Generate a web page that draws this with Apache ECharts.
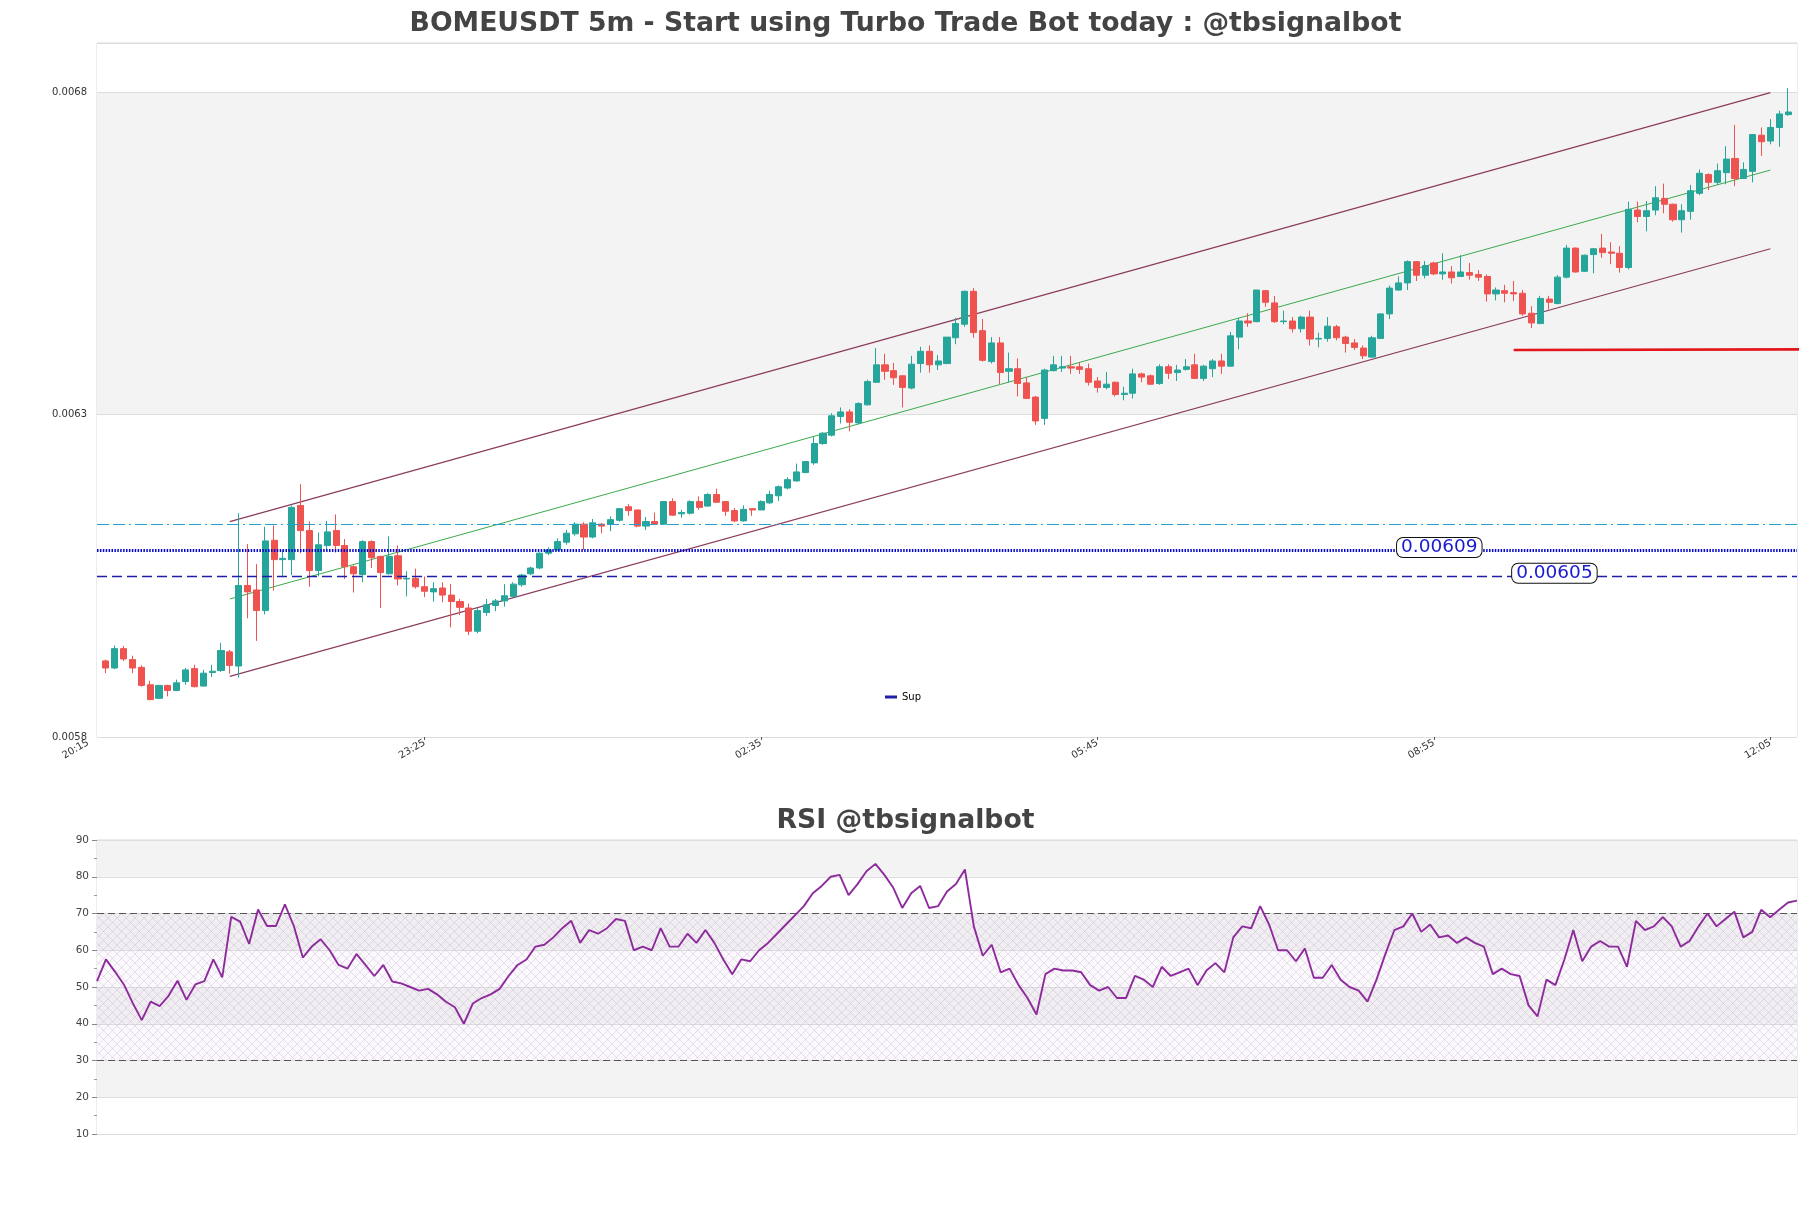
<!DOCTYPE html>
<html><head><meta charset="utf-8">
<script src="https://cdn.jsdelivr.net/npm/echarts@6/dist/echarts.min.js"></script>
<style>html,body{margin:0;padding:0;background:#fff}#c{width:1811px;height:1208px}</style>
</head><body><div id="c"></div>
<script>
// ---- data ----
const tickLabels = ['20:15', '23:25', '02:35', '05:45', '08:55', '12:05'];
const priceTicks = [0.0058, 0.0063, 0.0068];
const rsiTicks = [10, 20, 30, 40, 50, 60, 70, 80, 90];

const opens = [
0.005918,0.005907,0.005937,0.005920,0.005908,0.005881,0.005860,0.005880,0.005872,0.005886,
0.005906,0.005879,0.005900,0.005903,0.005932,0.005910,0.006035,0.006028,0.005996,0.006105,
0.006075,0.006075,0.006159,0.006120,0.006058,0.006097,0.006120,0.006097,0.006064,0.006052,
0.006103,0.006080,0.006053,0.006081,0.006045,0.006046,0.006033,0.006025,0.006031,0.006020,
0.006010,0.006000,0.005964,0.005993,0.006004,0.006011,0.006018,0.006036,0.006053,0.006062,
0.006085,0.006090,0.006102,0.006115,0.006130,0.006110,0.006130,0.006130,0.006136,0.006157,
0.006152,0.006127,0.006134,0.006130,0.006165,0.006146,0.006147,0.006165,0.006158,0.006176,
0.006165,0.006151,0.006135,0.006154,0.006152,0.006163,0.006174,0.006186,0.006197,0.006210,
0.006225,0.006255,0.006268,0.006297,0.006304,0.006287,0.006315,0.006350,0.006377,0.006368,
0.006360,0.006341,0.006379,0.006398,0.006377,0.006379,0.006419,0.006440,0.006491,0.006430,
0.006382,0.006411,0.006367,0.006371,0.006349,0.006327,0.006294,0.006368,0.006372,0.006374,
0.006374,0.006371,0.006352,0.006342,0.006350,0.006331,0.006333,0.006363,0.006360,0.006348,
0.006374,0.006365,0.006370,0.006377,0.006356,0.006371,0.006383,0.006375,0.006420,0.006445,
0.006444,0.006492,0.006473,0.006444,0.006445,0.006433,0.006451,0.006417,0.006418,0.006436,
0.006420,0.006411,0.006403,0.006389,0.006418,0.006456,0.006493,0.006504,0.006537,0.006516,
0.006535,0.006518,0.006521,0.006514,0.006520,0.006517,0.006514,0.006487,0.006492,0.006489,
0.006488,0.006457,0.006441,0.006479,0.006472,0.006513,0.006558,0.006522,0.006548,0.006558,
0.006552,0.006550,0.006528,0.006617,0.006607,0.006617,0.006635,0.006626,0.006602,0.006615,
0.006643,0.006672,0.006660,0.006675,0.006697,0.006666,0.006677,0.006733,0.006724,0.006745,
0.006765];

const highs = [
0.005920,0.005942,0.005941,0.005926,0.005911,0.005887,0.005881,0.005881,0.005889,0.005907,
0.005912,0.005904,0.005912,0.005946,0.005935,0.006147,0.006099,0.006068,0.006126,0.006128,
0.006090,0.006159,0.006192,0.006134,0.006117,0.006135,0.006145,0.006107,0.006066,0.006105,
0.006105,0.006081,0.006111,0.006097,0.006057,0.006061,0.006049,0.006040,0.006040,0.006037,
0.006014,0.006007,0.006000,0.006014,0.006014,0.006037,0.006040,0.006053,0.006064,0.006086,
0.006094,0.006108,0.006121,0.006133,0.006133,0.006138,0.006132,0.006142,0.006155,0.006161,
0.006152,0.006141,0.006148,0.006165,0.006170,0.006152,0.006167,0.006173,0.006178,0.006185,
0.006165,0.006155,0.006159,0.006154,0.006167,0.006182,0.006190,0.006203,0.006224,0.006227,
0.006265,0.006273,0.006302,0.006311,0.006308,0.006319,0.006354,0.006403,0.006394,0.006380,
0.006360,0.006391,0.006405,0.006407,0.006392,0.006420,0.006450,0.006492,0.006496,0.006448,
0.006420,0.006420,0.006396,0.006387,0.006358,0.006329,0.006371,0.006391,0.006391,0.006391,
0.006381,0.006379,0.006358,0.006366,0.006351,0.006343,0.006371,0.006365,0.006362,0.006378,
0.006378,0.006377,0.006386,0.006394,0.006377,0.006386,0.006394,0.006428,0.006450,0.006457,
0.006493,0.006493,0.006484,0.006461,0.006451,0.006453,0.006461,0.006427,0.006451,0.006439,
0.006422,0.006417,0.006407,0.006422,0.006457,0.006500,0.006514,0.006539,0.006538,0.006538,
0.006537,0.006550,0.006530,0.006547,0.006535,0.006524,0.006517,0.006497,0.006501,0.006507,
0.006493,0.006468,0.006484,0.006484,0.006516,0.006563,0.006559,0.006548,0.006558,0.006580,
0.006567,0.006561,0.006630,0.006630,0.006631,0.006654,0.006658,0.006627,0.006626,0.006656,
0.006680,0.006674,0.006689,0.006716,0.006749,0.006691,0.006735,0.006745,0.006758,0.006771,
0.006806];

const lows = [
0.005899,0.005905,0.005918,0.005899,0.005878,0.005857,0.005859,0.005863,0.005871,0.005881,
0.005877,0.005878,0.005893,0.005901,0.005898,0.005892,0.005984,0.005949,0.005990,0.006027,
0.006048,0.006051,0.006085,0.006033,0.006049,0.006089,0.006086,0.006045,0.006024,0.006040,
0.006062,0.006000,0.006052,0.006035,0.006018,0.006030,0.006017,0.006010,0.006009,0.005970,
0.005989,0.005958,0.005961,0.005988,0.005995,0.006002,0.006017,0.006033,0.006051,0.006060,
0.006082,0.006089,0.006098,0.006112,0.006090,0.006108,0.006116,0.006119,0.006134,0.006143,
0.006125,0.006121,0.006129,0.006129,0.006143,0.006140,0.006145,0.006152,0.006157,0.006163,
0.006143,0.006133,0.006134,0.006143,0.006152,0.006161,0.006166,0.006184,0.006196,0.006209,
0.006222,0.006253,0.006266,0.006286,0.006274,0.006285,0.006314,0.006349,0.006354,0.006346,
0.006311,0.006339,0.006365,0.006365,0.006369,0.006378,0.006409,0.006436,0.006419,0.006382,
0.006379,0.006347,0.006350,0.006328,0.006324,0.006284,0.006284,0.006367,0.006366,0.006363,
0.006363,0.006345,0.006334,0.006339,0.006328,0.006322,0.006325,0.006350,0.006346,0.006346,
0.006355,0.006352,0.006368,0.006355,0.006352,0.006358,0.006363,0.006374,0.006401,0.006436,
0.006443,0.006467,0.006442,0.006440,0.006427,0.006427,0.006407,0.006404,0.006413,0.006415,
0.006396,0.006400,0.006386,0.006388,0.006417,0.006448,0.006492,0.006493,0.006507,0.006511,
0.006516,0.006509,0.006503,0.006514,0.006509,0.006507,0.006475,0.006477,0.006474,0.006476,
0.006453,0.006434,0.006440,0.006463,0.006471,0.006511,0.006520,0.006521,0.006519,0.006543,
0.006533,0.006520,0.006525,0.006598,0.006584,0.006609,0.006612,0.006599,0.006582,0.006602,
0.006640,0.006648,0.006656,0.006657,0.006654,0.006665,0.006660,0.006701,0.006719,0.006715,
0.006763];

const closes = [
0.005907,0.005937,0.005921,0.005907,0.005880,0.005858,0.005880,0.005872,0.005884,0.005904,
0.005878,0.005899,0.005902,0.005934,0.005911,0.006035,0.006025,0.005996,0.006104,0.006075,
0.006077,0.006156,0.006120,0.006058,0.006098,0.006118,0.006097,0.006064,0.006053,0.006103,
0.006078,0.006055,0.006080,0.006045,0.006046,0.006033,0.006026,0.006030,0.006020,0.006010,
0.006001,0.005964,0.005996,0.006005,0.006011,0.006019,0.006037,0.006051,0.006062,0.006085,
0.006090,0.006103,0.006116,0.006130,0.006110,0.006132,0.006127,0.006137,0.006154,0.006151,
0.006127,0.006134,0.006130,0.006165,0.006144,0.006148,0.006165,0.006156,0.006176,0.006164,
0.006150,0.006135,0.006153,0.006152,0.006165,0.006176,0.006188,0.006199,0.006211,0.006227,
0.006255,0.006271,0.006298,0.006304,0.006288,0.006317,0.006351,0.006377,0.006367,0.006357,
0.006342,0.006378,0.006398,0.006377,0.006383,0.006420,0.006441,0.006491,0.006427,0.006384,
0.006411,0.006365,0.006371,0.006348,0.006325,0.006290,0.006369,0.006377,0.006374,0.006372,
0.006370,0.006350,0.006342,0.006347,0.006331,0.006333,0.006363,0.006358,0.006347,0.006374,
0.006364,0.006369,0.006374,0.006356,0.006375,0.006383,0.006375,0.006422,0.006445,0.006442,
0.006493,0.006474,0.006444,0.006445,0.006433,0.006451,0.006417,0.006418,0.006437,0.006419,
0.006410,0.006404,0.006391,0.006419,0.006456,0.006496,0.006504,0.006537,0.006516,0.006531,
0.006518,0.006521,0.006512,0.006521,0.006516,0.006513,0.006487,0.006493,0.006488,0.006487,
0.006456,0.006442,0.006480,0.006474,0.006513,0.006558,0.006521,0.006547,0.006557,0.006551,
0.006550,0.006528,0.006618,0.006607,0.006616,0.006636,0.006626,0.006602,0.006616,0.006647,
0.006674,0.006660,0.006678,0.006696,0.006666,0.006680,0.006734,0.006723,0.006745,0.006766,
0.006769];

const rsi = [
51.6,57.5,54.2,50.7,45.6,41.0,46.0,44.8,47.6,51.7,
46.5,50.7,51.6,57.5,52.6,69.1,67.8,61.7,71.1,66.6,
66.6,72.5,66.6,58,61,63,60,56,55,59,
56,53,56,51.5,51,50,49,49.5,48,46,
44.5,40,45.5,47,48,49.5,53,56,57.5,61,
61.5,63.5,66,68,62,65.5,64.5,66,68.5,68,
60,61,60,66,61,61,64.5,62,65.5,62,
57.5,53.5,57.5,57,60,62,64.5,67,69.5,72,
75.5,77.5,80,80.5,75,78,81.5,83.5,80.5,77,
71.5,75.5,77.5,71.5,72,76,78,82,66.5,58.5,
61.5,54,55,50.5,47,42.5,53.5,55,54.5,54.5,
54,50.5,49,50,47,47,53,52,50,55.5,
53,54,55,50.5,54.5,56.5,54,63.5,66.5,66,
72,67,60,60,57,60.5,52.5,52.5,56,52,
50,49,46,52,59,65.5,66.5,70,65,67,
63.5,64,62,63.5,62,61,53.5,55,53.5,53,
45,42,52,50.5,57.5,65.5,57,61,62.5,61,
61,55.5,68,65.5,66.5,69,66.5,61,62.5,66.5,
70,66.5,68.5,70.5,63.5,65,71,69,71,73,
73.5];

// channel (candle index, price)
const channelX = [14, 188];
const channelUpper = [0.006134, 0.006799];
const channelMid = [0.006014, 0.006679];
const channelLower = [0.005894, 0.006557];
// red level segment
const redX = [159, 192.1];
const redY = [0.006400, 0.006401];
// horizontal levels
const levelRes = 0.00613;
const levelPivot = 0.00609;
const levelSup = 0.00605;
const pivotLabelX = 150.6;
const supLabelX = 163.6;
const rsiUpper = 70, rsiLower = 30;

// ---- build ----
const N = opens.length;
const cats = Array.from({length: N + 2}, (_, j) => String(j - 1));
const empty = ['-', '-', '-', '-'];
const candleData = [empty].concat(opens.map((o, i) => [o, closes[i], lows[i], highs[i]])).concat([empty]);
const rsiCats = rsi.map((_, k) => String(k));

const pc = document.createElement('canvas');
pc.width = 9; pc.height = 9;
const pctx = pc.getContext('2d');
pctx.fillStyle = 'rgba(225,205,230,0.12)';
pctx.fillRect(0, 0, 9, 9);
pctx.strokeStyle = 'rgba(175,150,195,0.40)';
pctx.lineWidth = 0.7;
pctx.beginPath();
pctx.moveTo(0, 0); pctx.lineTo(9, 9);
pctx.moveTo(9, 0); pctx.lineTo(0, 9);
pctx.stroke();

const FONT = 'DejaVu Sans';
const chart = echarts.init(document.getElementById('c'), null, {renderer: 'canvas'});

function lvlLabel(v) {
  return {
    show: true, position: 'inside', formatter: v.toFixed(5), offset: [0, -2.5],
    color: '#1a1ad0', fontSize: 18.5, fontFamily: FONT,
    backgroundColor: '#ffffff', borderColor: '#111', borderWidth: 1,
    borderRadius: 6, padding: [1, 4, -1, 4]
  };
}

const option = {
  animation: false,
  backgroundColor: '#ffffff',
  textStyle: {fontFamily: FONT},
  title: [
    {text: 'BOMEUSDT 5m - Start using Turbo Trade Bot today : @tbsignalbot', left: 'center', top: 6,
     textStyle: {fontSize: 26.7, fontWeight: 'bold', color: '#444', fontFamily: FONT}},
    {text: 'RSI @tbsignalbot', left: 'center', top: 803,
     textStyle: {fontSize: 26.7, fontWeight: 'bold', color: '#444', fontFamily: FONT}}
  ],
  legend: {
    data: ['Sup'], left: 880, top: 687, icon: 'rect', itemWidth: 12, itemHeight: 3,
    textStyle: {fontSize: 10, color: '#000', fontFamily: FONT}, selectedMode: false
  },
  grid: [
    {left: 97, right: 14, top: 43, bottom: 471, show: true, borderColor: '#d9d9d9', borderWidth: 1, backgroundColor: 'transparent'},
    {left: 88.15, right: 14, top: 43, bottom: 471, show: false},
    {left: 97, right: 14, top: 840, bottom: 74, show: true, borderColor: '#d9d9d9', borderWidth: 1}
  ],
  xAxis: [
    {type: 'category', gridIndex: 0, data: cats, boundaryGap: false, show: false},
    {type: 'value', gridIndex: 0, min: -1, max: 191, show: false},
    {type: 'value', gridIndex: 1, min: 0, max: 193, interval: 38,
     axisLine: {show: false}, splitLine: {show: false},
     axisTick: {show: true, length: 3, customValues: [38, 76, 114, 152, 190], lineStyle: {color: '#555'}},
     axisLabel: {rotate: 30, fontSize: 10, color: '#333', margin: 5, fontFamily: FONT,
       formatter: v => { const r = Math.round(v); return (Math.abs(r - v) < 1e-6 && r % 38 === 0 && r / 38 < tickLabels.length) ? tickLabels[r / 38] : ''; }}},
    {type: 'category', gridIndex: 2, data: rsiCats, boundaryGap: false, show: false}
  ],
  yAxis: [
    {type: 'value', gridIndex: 0, min: 0.0058, max: 0.006876, interval: 0.0005,
     axisLine: {show: false}, axisTick: {show: false},
     axisLabel: {fontSize: 10, color: '#333', margin: 10, fontFamily: FONT,
       formatter: v => { const t = priceTicks.find(p => Math.abs(p - v) < 1e-9); return t !== undefined ? t.toFixed(4) : ''; }},
     splitLine: {show: true, lineStyle: {color: '#dddddd', width: 1}},
     splitArea: {show: true, areaStyle: {color: ['#ffffff', '#f3f3f3']}}},
    {type: 'value', gridIndex: 1, show: false, min: 0, max: 1},
    {type: 'value', gridIndex: 2, min: 10, max: 90, interval: 10,
     axisLine: {show: false},
     axisTick: {show: true, length: 5, lineStyle: {color: '#888'}},
     minorTick: {show: true, splitNumber: 2, length: 3, lineStyle: {color: '#999'}},
     axisLabel: {fontSize: 10.5, color: '#444', margin: 8, fontFamily: FONT,
       formatter: v => rsiTicks.indexOf(Math.round(v)) >= 0 ? String(Math.round(v)) : ''},
     splitLine: {show: true, lineStyle: {color: '#dddddd', width: 1}},
     splitArea: {show: true, areaStyle: {color: ['#ffffff', '#f3f3f3']}}}
  ],
  series: [
    {type: 'candlestick', name: 'price', xAxisIndex: 0, yAxisIndex: 0, data: candleData, barWidth: 6.6,
     itemStyle: {color: '#26a69a', color0: '#ef5350', borderColor: '#26a69a', borderColor0: '#ef5350', borderWidth: 1}, z: 5,
     markLine: {silent: true, symbol: ['none', 'none'], label: {show: false}, precision: 8, z: 6,
       data: [
         {yAxis: levelRes, lineStyle: {color: '#22a2cc', width: 1.2, type: [12, 4, 12, 4, 2, 4]}},
         {yAxis: levelPivot, lineStyle: {color: '#0808cc', width: 2.8, type: [1.5, 1.4]}},
         {yAxis: levelSup, lineStyle: {color: '#1e1ea8', width: 1.3, type: [10, 5]}}
       ]}},
    {type: 'line', name: 'upper', xAxisIndex: 1, yAxisIndex: 0, symbol: 'none', z: 4,
     data: [[channelX[0], channelUpper[0]], [channelX[1], channelUpper[1]]],
     lineStyle: {color: '#8b3c5e', width: 1.2}},
    {type: 'line', name: 'mid', xAxisIndex: 1, yAxisIndex: 0, symbol: 'none', z: 4,
     data: [[channelX[0], channelMid[0]], [channelX[1], channelMid[1]]],
     lineStyle: {color: '#3caa4c', width: 1}},
    {type: 'line', name: 'lower', xAxisIndex: 1, yAxisIndex: 0, symbol: 'none', z: 4,
     data: [[channelX[0], channelLower[0]], [channelX[1], channelLower[1]]],
     lineStyle: {color: '#8b3c5e', width: 1.2}},
    {type: 'line', name: 'redlevel', xAxisIndex: 1, yAxisIndex: 0, symbol: 'none', clip: false, z: 6,
     data: [[redX[0], redY[0]], [redX[1], redY[1]]],
     lineStyle: {color: '#e3161b', width: 2.6}},
    {type: 'line', name: 'Pivot', xAxisIndex: 1, yAxisIndex: 0, data: [], symbol: 'none', z: 8,
     markPoint: {silent: true, symbol: 'circle', symbolSize: 0, z: 8, label: lvlLabel(levelPivot),
       data: [{coord: [pivotLabelX, levelPivot], value: levelPivot}]}},
    {type: 'line', name: 'Sup', xAxisIndex: 1, yAxisIndex: 0, data: [], symbol: 'none', z: 8,
     itemStyle: {color: '#1e1ea8'}, lineStyle: {color: '#1e1ea8'},
     markPoint: {silent: true, symbol: 'circle', symbolSize: 0, z: 8, label: lvlLabel(levelSup),
       data: [{coord: [supLabelX, levelSup], value: levelSup}]}},
    {type: 'line', name: 'RSI', xAxisIndex: 3, yAxisIndex: 2, data: rsi, symbol: 'none', z: 5,
     lineStyle: {color: '#8e2b9c', width: 1.9},
     markLine: {silent: true, symbol: ['none', 'none'], label: {show: false},
       lineStyle: {color: '#555', width: 1.2, type: [7, 4]}, data: [{yAxis: rsiUpper}, {yAxis: rsiLower}]},
     markArea: {silent: true, itemStyle: {color: {image: pc, repeat: 'repeat'}},
       data: [[{yAxis: rsiLower}, {yAxis: rsiUpper}]]}}
  ]
};
chart.setOption(option);
</script>
</body></html>
